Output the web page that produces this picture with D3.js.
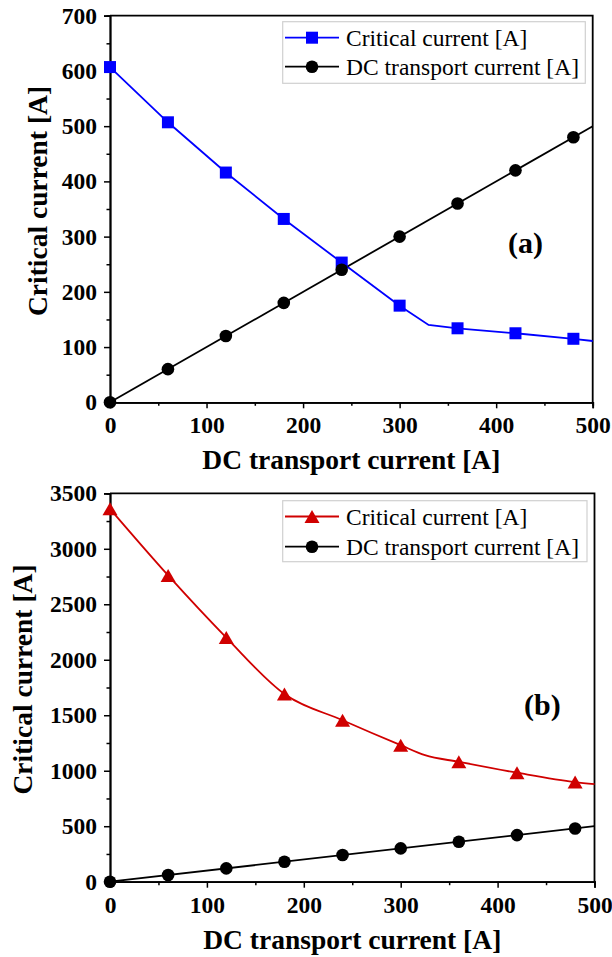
<!DOCTYPE html>
<html><head><meta charset="utf-8">
<script src="https://cdn.jsdelivr.net/npm/d3@7"></script>
<style>body{margin:0;background:#fff} svg{display:block}</style>
</head><body>
<script>
// ---- data ----
const transportX = [0, 60, 120, 180, 240, 300, 360, 420, 480];
const criticalA = [607, 507, 416, 332, 253, 175, 134, 125, 115];
const criticalALineX = [0, 60, 120, 180, 240, 300, 330, 360, 420, 480, 500];
const criticalALineY = [607, 507, 416, 332, 253, 175, 140, 134, 125, 115, 111];
const criticalB = [3360, 2760, 2200, 1692, 1455, 1230, 1080, 982, 898];
const criticalBLineX = [0, 60, 120, 180, 240, 300, 325, 360, 420, 480, 500];
const criticalBLineY = [3360, 2760, 2200, 1692, 1455, 1230, 1140, 1080, 982, 898, 880];
const dcTransport = [0, 60, 120, 180, 240, 300, 360, 420, 480];
const dcLineX = [0, 500];
const dcLineY = [0, 500];
const xTicks = [0, 100, 200, 300, 400, 500];
const yTicksA = [0, 100, 200, 300, 400, 500, 600, 700];
const yTicksB = [0, 500, 1000, 1500, 2000, 2500, 3000, 3500];
const legendLabels = ["Critical current [A]", "DC transport current [A]"];
const xTitle = "DC transport current [A]";
const yTitle = "Critical current [A]";

const W = 612, H = 957;
const svg = d3.select("body").append("svg").attr("width", W).attr("height", H)
  .style("font-family", "'Liberation Serif','Times New Roman',serif");

function marker(g, type, color, x, y) {
  if (type === "square") {
    g.append("rect").attr("x", x - 6).attr("y", y - 6).attr("width", 12).attr("height", 12).attr("fill", color);
  } else if (type === "circle") {
    g.append("circle").attr("cx", x).attr("cy", y).attr("r", 6.3).attr("fill", color);
  } else {
    const s = 15, h = 13;
    g.append("path").attr("d", `M${x},${y - h / 2}L${x + s / 2},${y + h / 2}L${x - s / 2},${y + h / 2}Z`).attr("fill", color);
  }
}

function panel(cfg) {
  const g = svg.append("g");
  const x = d3.scaleLinear().domain([0, 500]).range([cfg.left, cfg.right]);
  const y = d3.scaleLinear().domain([0, cfg.ymax]).range([cfg.bottom, cfg.top]);

  // frame top/right
  g.append("path").attr("d", `M${cfg.left},${cfg.top}H${cfg.right}V${cfg.bottom}`)
    .attr("fill", "none").attr("stroke", "#000").attr("stroke-width", 1.8);

  // minor ticks
  const xMinor = d3.range(50, 500, 100);
  const yMinor = d3.range(cfg.ymax / 14, cfg.ymax, cfg.ymax / 7);
  const xa = g.append("g").attr("transform", `translate(0,${cfg.bottom})`)
    .call(d3.axisBottom(x).tickValues(xMinor).tickSize(3.5).tickFormat(""));
  const ya = g.append("g").attr("transform", `translate(${cfg.left},0)`)
    .call(d3.axisLeft(y).tickValues(yMinor).tickSize(3.5).tickFormat(""));
  const xb = g.append("g").attr("transform", `translate(0,${cfg.bottom})`)
    .call(d3.axisBottom(x).tickValues(xTicks).tickSize(6).tickPadding(8).tickFormat(d3.format("d")));
  const yb = g.append("g").attr("transform", `translate(${cfg.left},0)`)
    .call(d3.axisLeft(y).tickValues(cfg.yTicks).tickSize(6).tickPadding(7).tickFormat(d3.format("d")));
  [xa, ya, xb, yb].forEach(a => {
    a.select(".domain").attr("stroke-width", 1.8).attr("stroke", "#000");
    a.selectAll(".tick line").attr("stroke-width", 1.5).attr("stroke", "#000");
    a.selectAll("text").attr("font-size", 23.5).attr("font-weight", "bold")
      .attr("font-family", "'Liberation Serif','Times New Roman',serif").attr("fill", "#000");
  });
  xb.selectAll("text").attr("dy", null).attr("y", 31).attr("dominant-baseline", "auto");

  // titles
  g.append("text").attr("x", (cfg.left + cfg.right) / 2).attr("y", cfg.bottom + 67)
    .attr("text-anchor", "middle").attr("font-size", 27.5).attr("font-weight", "bold").text(xTitle);
  g.append("text").attr("transform", `translate(${cfg.ytx},${(cfg.top + cfg.bottom) / 2 - 8}) rotate(-90)`)
    .attr("text-anchor", "middle").attr("font-size", 27.5).attr("font-weight", "bold").text(yTitle);

  // lines
  const line = d3.line().x(d => x(d[0])).y(d => y(d[1])).curve(cfg.curve);
  g.append("path").datum(cfg.critLineX.map((v, i) => [v, cfg.critLineY[i]]))
    .attr("d", line).attr("fill", "none").attr("stroke", cfg.color).attr("stroke-width", 1.8);
  g.append("path").datum(dcLineX.map((v, i) => [v, dcLineY[i]]))
    .attr("d", d3.line().x(d => x(d[0])).y(d => y(d[1]))).attr("fill", "none").attr("stroke", "#000").attr("stroke-width", 1.8);

  const mg = g.append("g");
  transportX.forEach((v, i) => marker(mg, cfg.mtype, cfg.color, x(v), y(cfg.crit[i])));
  transportX.forEach((v, i) => marker(mg, "circle", "#000", x(v), y(dcTransport[i])));

  // legend
  const L = cfg.legend;
  g.append("rect").attr("x", L.x).attr("y", L.y).attr("width", L.w).attr("height", L.h)
    .attr("fill", "#fff").attr("stroke", "#d0d0d0").attr("stroke-width", 1.2);
  const rows = [{ t: cfg.mtype, c: cfg.color }, { t: "circle", c: "#000" }];
  rows.forEach((r, i) => {
    const ly = L.rows[i];
    g.append("line").attr("x1", 285).attr("x2", 339).attr("y1", ly).attr("y2", ly)
      .attr("stroke", r.c).attr("stroke-width", 1.8);
    marker(g, r.t, r.c, 312, ly);
    g.append("text").attr("x", 346).attr("y", ly + 8.5).attr("font-size", 23.5).text(legendLabels[i]);
  });

  g.append("text").attr("x", cfg.tag.x).attr("y", cfg.tag.y).attr("font-size", 30)
    .attr("font-weight", "bold").text(cfg.tag.t);
}

panel({
  left: 110, right: 592.7, top: 15.7, bottom: 402.3, ymax: 700, yTicks: yTicksA,
  crit: criticalA, critLineX: criticalALineX, critLineY: criticalALineY,
  color: "#0000ff", mtype: "square", curve: d3.curveLinear, ytx: 47,
  legend: { x: 282.7, y: 21.7, w: 302.6, h: 61.6, rows: [37.7, 66.7] },
  tag: { t: "(a)", x: 508, y: 253 }
});
panel({
  left: 110, right: 594.5, top: 493.3, bottom: 881.7, ymax: 3500, yTicks: yTicksB,
  crit: criticalB, critLineX: criticalBLineX, critLineY: criticalBLineY,
  color: "#d00000", mtype: "triangle", curve: d3.curveMonotoneX, ytx: 32,
  legend: { x: 282.7, y: 500.7, w: 304.3, h: 61, rows: [516.5, 546.7] },
  tag: { t: "(b)", x: 524, y: 715 }
});
</script>
</body></html>
